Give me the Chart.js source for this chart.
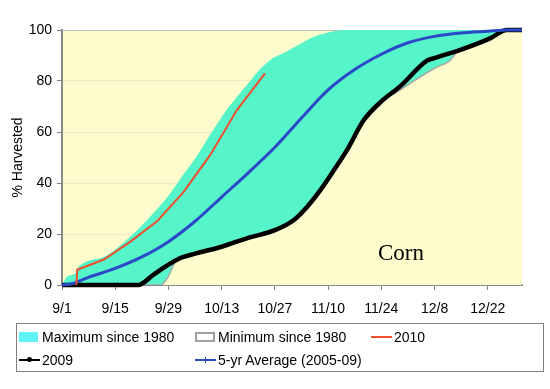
<!DOCTYPE html>
<html>
<head>
<meta charset="utf-8">
<script src="https://cdn.jsdelivr.net/npm/chart.js@4.4.0/dist/chart.umd.min.js"></script>
<style>
  html, body { margin: 0; padding: 0; background: #fff; }
  #wrap { position: relative; width: 550px; height: 389px; font-family: "Liberation Sans", Arial, sans-serif; }
  #c { position: absolute; left: 0; top: 0; }
  #legend { position: absolute; left: 16px; top: 323px; width: 528px; height: 49px; border: 1px solid #7f7f7f; box-sizing: border-box; }
  .lg { position: absolute; font-size: 14px; line-height: 16px; height: 16px; color: #000; white-space: nowrap; }
  .sw { position: absolute; box-sizing: border-box; }
</style>
</head>
<body>
<div id="wrap">
  <canvas id="c" width="550" height="389"></canvas>
  <div id="legend"></div>
</div>
<script>
// x axis: days after 9/1
const tickDays   = [0, 14, 28, 42, 56, 70, 84, 98, 112];
const tickLabels = ['9/1', '9/15', '9/29', '10/13', '10/27', '11/10', '11/24', '12/8', '12/22'];

const maxDays = [0, 1.5, 3.5, 4, 11, 18, 23, 28, 32, 35, 39, 43, 49.5, 52, 55.5, 59, 62, 66, 70, 74.5, 121];
const maxVals = [0, 3.5, 4.5, 6.5, 11, 19, 26.5, 35, 43.5, 49.5, 59, 68, 80, 84.5, 89, 91.5, 94, 97.2, 99, 100, 100];

const minDays = [0, 26, 28, 30, 35, 42, 49, 56, 61, 64.5, 68, 71.5, 75, 79.3, 84, 88, 91.5, 98, 102, 104, 105, 112.6, 117, 121];
const minVals = [0, 0, 3.5, 9.5, 12.3, 15, 18.5, 21.5, 25.5, 30.7, 37.3, 45, 53, 64.5, 72, 75.5, 79, 85, 88, 91.5, 92.3, 96.7, 100, 100];

const y2010Days = [3.8, 4, 11, 18, 25, 32, 39, 46, 53.4];
const y2010Vals = [0, 6, 10, 17, 25, 36.5, 51, 68.6, 83];

const y2009Days = [0, 20, 24, 28, 31, 35, 42, 49, 56, 61, 64.5, 68, 71.5, 75, 79.3, 84, 89, 96, 98, 105, 112.6, 117, 121];
const y2009Vals = [0, 0, 4, 8, 10.5, 12.3, 15, 18.5, 21.5, 25.5, 30.7, 37.3, 45, 53, 64.5, 72, 78, 88, 89, 92.3, 96.7, 100, 100];

const avgDays = [0, 2, 7, 14, 21, 28, 35, 42, 49, 56, 63, 70, 77, 84, 91, 98, 105, 112, 117, 121];
const avgVals = [0, 0.3, 3, 6.5, 11, 17, 25, 34.5, 44, 54, 65.5, 76.5, 84.5, 90.5, 95, 97.5, 98.8, 99.5, 100, 100];

const pts = (xs, ys) => xs.map((x, i) => ({ x, y: ys[i] }));

const PLOT_BG = '#FEFCCD';
const TEAL    = '#55F4C9';
const RED     = '#F04E2E';
const BLUE    = '#2A48C8';

Chart.defaults.font.family = '"Liberation Sans", Arial, sans-serif';
Chart.defaults.font.size = 14;
Chart.defaults.color = '#000';

/* plot background + frame + label */
const plotBg = {
  id: 'plotBg',
  beforeDraw(chart) {
    const { ctx, chartArea: a } = chart;
    ctx.save();
    ctx.fillStyle = PLOT_BG;
    ctx.fillRect(a.left, a.top, a.right - a.left, a.bottom - a.top);
    ctx.restore();
  },
  beforeDatasetsDraw(chart) {
    const { ctx, chartArea: a } = chart;
    ctx.save();
    ctx.strokeStyle = '#BDBDBD';
    ctx.lineWidth = 1;
    ctx.beginPath();
    ctx.moveTo(a.left, a.top + 0.5);
    ctx.lineTo(a.right - 0.5, a.top + 0.5);
    ctx.lineTo(a.right - 0.5, a.bottom);
    ctx.stroke();
    ctx.restore();
  },
  afterDatasetsDraw(chart) {
    const { ctx } = chart;
    ctx.save();
    ctx.font = '23px "Liberation Serif", "Times New Roman", serif';
    ctx.fillStyle = '#000';
    ctx.textBaseline = 'alphabetic';
    ctx.fillText('Corn', 378, 260);
    ctx.restore();
  }
};

new Chart(document.getElementById('c'), {
  type: 'line',
  data: {
    datasets: [
      { label: 'Maximum since 1980', data: pts(maxDays, maxVals), fill: 'origin',
        backgroundColor: TEAL, borderWidth: 0, pointRadius: 0, order: 5, cubicInterpolationMode: 'monotone' },
      { label: 'Minimum since 1980', data: pts(minDays, minVals), fill: 'origin',
        backgroundColor: PLOT_BG, borderColor: '#A8A8A8', borderWidth: 1.5, pointRadius: 0, order: 4, cubicInterpolationMode: 'monotone' },
      { label: '2010', data: pts(y2010Days, y2010Vals), fill: false,
        borderColor: RED, borderWidth: 2, pointRadius: 0, order: 1, clip: 4 },
      { label: '2009', data: pts(y2009Days, y2009Vals), fill: false,
        borderColor: '#000', borderWidth: 4.5, pointRadius: 0, order: 3, clip: 4, cubicInterpolationMode: 'monotone' },
      { label: '5-yr Average (2005-09)', data: pts(avgDays, avgVals), fill: false,
        borderColor: BLUE, borderWidth: 3, pointRadius: 0, order: 2, clip: 4, cubicInterpolationMode: 'monotone' }
    ]
  },
  options: {
    responsive: false,
    animation: false,
    devicePixelRatio: 1,
    layout: { padding: { top: 30, right: 28, bottom: 74, left: 0 } },
    plugins: { legend: { display: false }, tooltip: { enabled: false } },
    scales: {
      x: {
        type: 'linear', min: 0, max: 121,
        afterFit(scale) { scale.height = 30; },
        afterBuildTicks(scale) { scale.ticks = tickDays.map(v => ({ value: v })); },
        grid: { drawOnChartArea: false, tickLength: 5, tickColor: '#808080' },
        border: { color: '#8A8A8A', width: 2 },
        ticks: { padding: 11, maxRotation: 0, autoSkip: false,
          callback: (v) => tickLabels[tickDays.indexOf(v)] }
      },
      y: {
        min: 0, max: 100,
        afterFit(scale) { scale.width = 62; },
        grid: { color: '#EFEAC6', tickLength: 5, tickColor: '#808080' },
        border: { color: '#8A8A8A', width: 2 },
        ticks: { stepSize: 20, padding: 5 },
        title: { display: true, text: '% Harvested', padding: { top: 10, bottom: 0 } }
      }
    }
  },
  plugins: [plotBg]
});

/* legend laid out like the spreadsheet's box */
const legendItems = [
  { text: 'Maximum since 1980', x: 42,  y: 337, sw: { kind: 'fill', x: 19,  color: '#60F2F4' } },
  { text: 'Minimum since 1980', x: 218, y: 337, sw: { kind: 'box',  x: 195, color: '#A0A0A0' } },
  { text: '2010',               x: 394, y: 337, sw: { kind: 'line', x: 371, color: RED } },
  { text: '2009',               x: 42,  y: 360, sw: { kind: 'dot',  x: 19,  color: '#000' } },
  { text: '5-yr Average (2005-09)', x: 218, y: 360, sw: { kind: 'plus', x: 195, color: BLUE } }
];

const wrap = document.getElementById('wrap');
legendItems.forEach(it => {
  const t = document.createElement('div');
  t.className = 'lg';
  t.textContent = it.text;
  t.style.left = it.x + 'px';
  t.style.top = (it.y - 8) + 'px';
  wrap.appendChild(t);

  const s = it.sw;
  const add = (css) => {
    const d = document.createElement('div');
    d.className = 'sw';
    Object.assign(d.style, css);
    wrap.appendChild(d);
  };
  if (s.kind === 'fill') {
    add({ left: s.x + 'px', top: (it.y - 5) + 'px', width: '19px', height: '10px', background: s.color });
  } else if (s.kind === 'box') {
    add({ left: s.x + 'px', top: (it.y - 5) + 'px', width: '20px', height: '10px', border: '2px solid ' + s.color, background: '#fff' });
  } else {
    add({ left: s.x + 'px', top: (it.y - 1) + 'px', width: '21px', height: '2px', background: s.color });
    if (s.kind === 'dot') {
      add({ left: (s.x + 8) + 'px', top: (it.y - 3) + 'px', width: '5px', height: '5px', borderRadius: '50%', background: s.color });
    } else if (s.kind === 'plus') {
      add({ left: (s.x + 10) + 'px', top: (it.y - 3) + 'px', width: '1px', height: '6px', background: s.color });
    }
  }
});
</script>
</body>
</html>
